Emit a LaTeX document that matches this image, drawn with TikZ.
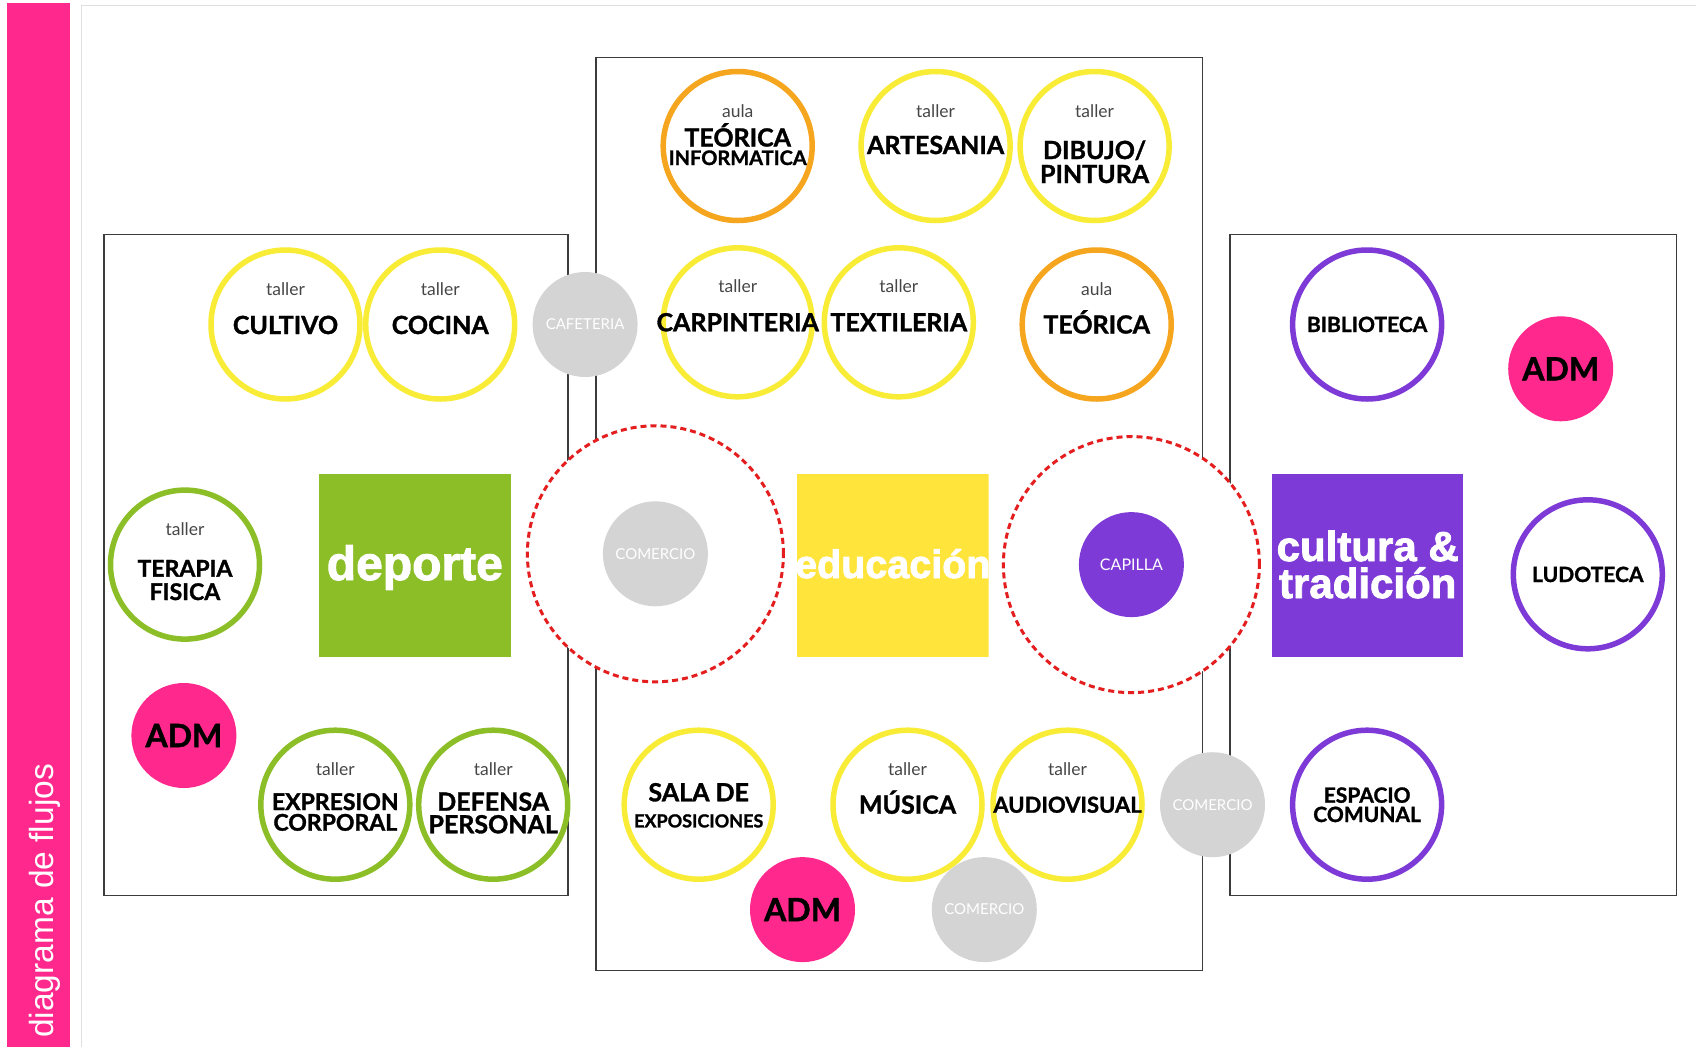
\documentclass[tikz,border=0pt]{standalone}
\usepackage{fontspec}
\setmainfont{Lato}[BoldFeatures={FakeBold=1.3}]
\newfontfamily\arialf{Liberation Sans}[BoldFeatures={FakeBold=2}]
\newfontfamily\arialr{Liberation Sans}
\definecolor{yel}{RGB}{248,236,54}
\definecolor{ora}{RGB}{245,166,30}
\definecolor{grn}{RGB}{140,190,40}
\definecolor{pur}{RGB}{125,58,214}
\definecolor{pnk}{RGB}{255,40,140}
\definecolor{edu}{RGB}{255,228,60}
\definecolor{lgr}{RGB}{212,212,212}
\definecolor{rdd}{RGB}{228,30,30}
\definecolor{tgr}{RGB}{70,70,70}
\definecolor{boxc}{RGB}{60,60,60}
\tikzset{
  ring/.style={circle, line width=5.5pt, fill=white, minimum size=149pt, inner sep=0pt},
  ringY/.style={ring, draw=yel},
  ringO/.style={ring, draw=ora},
  ringG/.style={ring, draw=grn},
  ringP/.style={ring, draw=pur},
  spot/.style={circle, inner sep=0pt, minimum size=105pt},
  graysp/.style={spot, fill=lgr, text=white, font=\fontsize{15}{15}\selectfont},
  admsp/.style={spot, fill=pnk, font=\bfseries\fontsize{32}{32}\selectfont},
  sm/.style={font=\fontsize{17.5}{20}\selectfont, text=tgr, anchor=base, inner sep=0pt},
  lb/.style={font=\bfseries\fontsize{25}{25}\selectfont, anchor=base, inner sep=0pt},
  lbs/.style={font=\bfseries\fontsize{23}{23}\selectfont, anchor=base, inner sep=0pt},
  lbx/.style={font=\bfseries\fontsize{21}{21}\selectfont, anchor=base, inner sep=0pt},
  zone/.style={draw=boxc, line width=1.4pt},
  dring/.style={circle, draw=rdd, line width=3pt, dash pattern=on 6pt off 4pt, fill=white, minimum size=256pt, inner sep=0pt},
  sq/.style={rectangle, inner sep=0pt, minimum width=191.4pt, minimum height=182.8pt},
  sqtext/.style={text=white, font=\arialf\bfseries\fontsize{48}{48}\selectfont, inner sep=0pt}
}
\begin{document}
\begin{tikzpicture}[x=1pt,y=-1pt]
\useasboundingbox (0,0) rectangle (1696,1047);
\fill[white] (0,0) rectangle (1696,1047);
% frame
\draw[gray!25, line width=1pt] (81,1047) -- (81,5) -- (1696,5);
% pink side bar
\fill[pnk] (7,3) rectangle (70,1047);
\node[rotate=90, anchor=base west, text=white, inner sep=0pt, font=\arialr\fontsize{33.5}{33.5}\selectfont] (title) at (53,1038) {diagrama de flujos};

% zones
\draw[zone] (103.8,234.7) rectangle (567.8,895.6);
\draw[zone] (596,57.3) rectangle (1202.7,970.2);
\draw[zone] (1229.8,234.7) rectangle (1676.5,895.6);

% dashed rings
\node[dring] (dl) at (655.4,553.8) {};
\node[dring] (dr) at (1131.4,564.6) {};

% squares
\node[sq, fill=grn] (dep) at (414.8,565.1) {};
\node[sqtext, anchor=base] (dept) at (414.8,580) {deporte};
\begin{scope}
\clip (797.1,473.7) rectangle (988.6,656.5);
\node[sq, fill=edu] (edus) at (892.8,565.1) {};
\node[sqtext, anchor=base, font=\arialf\bfseries\fontsize{39.5}{39.5}\selectfont] (edut) at (892.8,578) {educación};
\end{scope}
\node[sq, fill=pur] (cul) at (1367.7,565.1) {};
\node[sqtext, align=center, font=\arialf\bfseries\fontsize{42}{37}\selectfont] (cult) at (1367.7,564.5) {cultura \&\\tradición};

% top row center
\node[ringO] (ti) at (737.7,146) {};
\node[sm] (ti-t) at (737.7,117) {aula};
\node[lb] (ti-1) at (737.7,146.5) {TEÓRICA};
\node[lb, font=\bfseries\fontsize{20}{20}\selectfont] (ti-2) at (737.7,165) {INFORMATICA};

\node[ringY] (art) at (935.6,146) {};
\node[sm] (art-t) at (935.6,117) {taller};
\node[lb] (art-l) at (935.6,154) {ARTESANIA};

\node[ringY] (dib) at (1094.6,146) {};
\node[sm] (dib-t) at (1094.6,117) {taller};
\node[lb] (dib-1) at (1094.6,159) {DIBUJO/};
\node[lb] (dib-2) at (1094.6,183) {PINTURA};

% second row
\node[ringY] (cultv) at (285.5,324.5) {};
\node[sm] (cultv-t) at (285.5,295) {taller};
\node[lb] (cultv-l) at (285.5,334) {CULTIVO};

\node[ringY] (coc) at (440.2,324.5) {};
\node[sm] (coc-t) at (440.2,295) {taller};
\node[lb] (coc-l) at (440.2,334) {COCINA};

\node[graysp] (caf) at (585.1,324.5) {CAFETERIA};

\node[ringY] (carp) at (737.7,322.3) {};
\node[sm] (carp-t) at (737.7,292.6) {taller};
\node[lb] (carp-l) at (737.7,331.3) {CARPINTERIA};

\node[ringY] (tex) at (898.8,322.3) {};
\node[sm] (tex-t) at (898.8,292.6) {taller};
\node[lb] (tex-l) at (898.8,331.3) {TEXTILERIA};

\node[ringO] (teo) at (1096.7,324.5) {};
\node[sm] (teo-t) at (1096.7,295) {aula};
\node[lb] (teo-l) at (1096.7,333.5) {TEÓRICA};

\node[ringP] (bib) at (1367.1,324.5) {};
\node[lbx] (bib-l) at (1367.1,332) {BIBLIOTECA};

\node[admsp] (adm1) at (1560.7,368.8) {ADM};

% middle row
\node[ringG] (ter) at (185,564.6) {};
\node[sm] (ter-t) at (185,535) {taller};
\node[lbs] (ter-1) at (185,576.6) {TERAPIA};
\node[lbs] (ter-2) at (185,600) {FISICA};

\node[graysp] (com1) at (655.4,553.8) {COMERCIO};
\node[spot, fill=pur, text=white, font=\fontsize{16}{16}\selectfont] (cap) at (1131.4,564.6) {CAPILLA};

\node[ringP] (lud) at (1587.8,574.3) {};
\node[lbx] (lud-l) at (1587.8,582) {LUDOTECA};

\node[admsp] (adm2) at (183.9,735.5) {ADM};

% bottom row
\node[ringG] (exp) at (335.3,804.7) {};
\node[sm] (exp-t) at (335.3,775) {taller};
\node[lbs] (exp-1) at (335.3,810) {EXPRESION};
\node[lbs] (exp-2) at (335.3,830.7) {CORPORAL};

\node[ringG] (def) at (493.2,804.7) {};
\node[sm] (def-t) at (493.2,775) {taller};
\node[lb] (def-1) at (493.2,810.7) {DEFENSA};
\node[lb] (def-2) at (493.2,833.3) {PERSONAL};

\node[ringY] (sala) at (698.7,804.7) {};
\node[lb] (sala-1) at (698.7,801.3) {SALA DE};
\node[lb, font=\bfseries\fontsize{18}{18}\selectfont] (sala-2) at (698.7,827.4) {EXPOSICIONES};

\node[ringY] (mus) at (907.5,804.7) {};
\node[sm] (mus-t) at (907.5,775) {taller};
\node[lb] (mus-l) at (907.5,813.7) {MÚSICA};

\node[ringY] (aud) at (1067.5,804.7) {};
\node[sm] (aud-t) at (1067.5,775) {taller};
\node[lb, font=\bfseries\fontsize{22}{22}\selectfont] (aud-l) at (1067.5,812.7) {AUDIOVISUAL};

\node[graysp] (com2) at (1212.5,804.7) {COMERCIO};

\node[ringP] (esp) at (1367.1,804.7) {};
\node[lbx] (esp-1) at (1367.1,802.7) {ESPACIO};
\node[lbx] (esp-2) at (1367.1,822) {COMUNAL};

\node[admsp] (adm3) at (802.5,909.6) {ADM};
\node[graysp] (com3) at (984.3,909.6) {COMERCIO};
\end{tikzpicture}
\end{document}
